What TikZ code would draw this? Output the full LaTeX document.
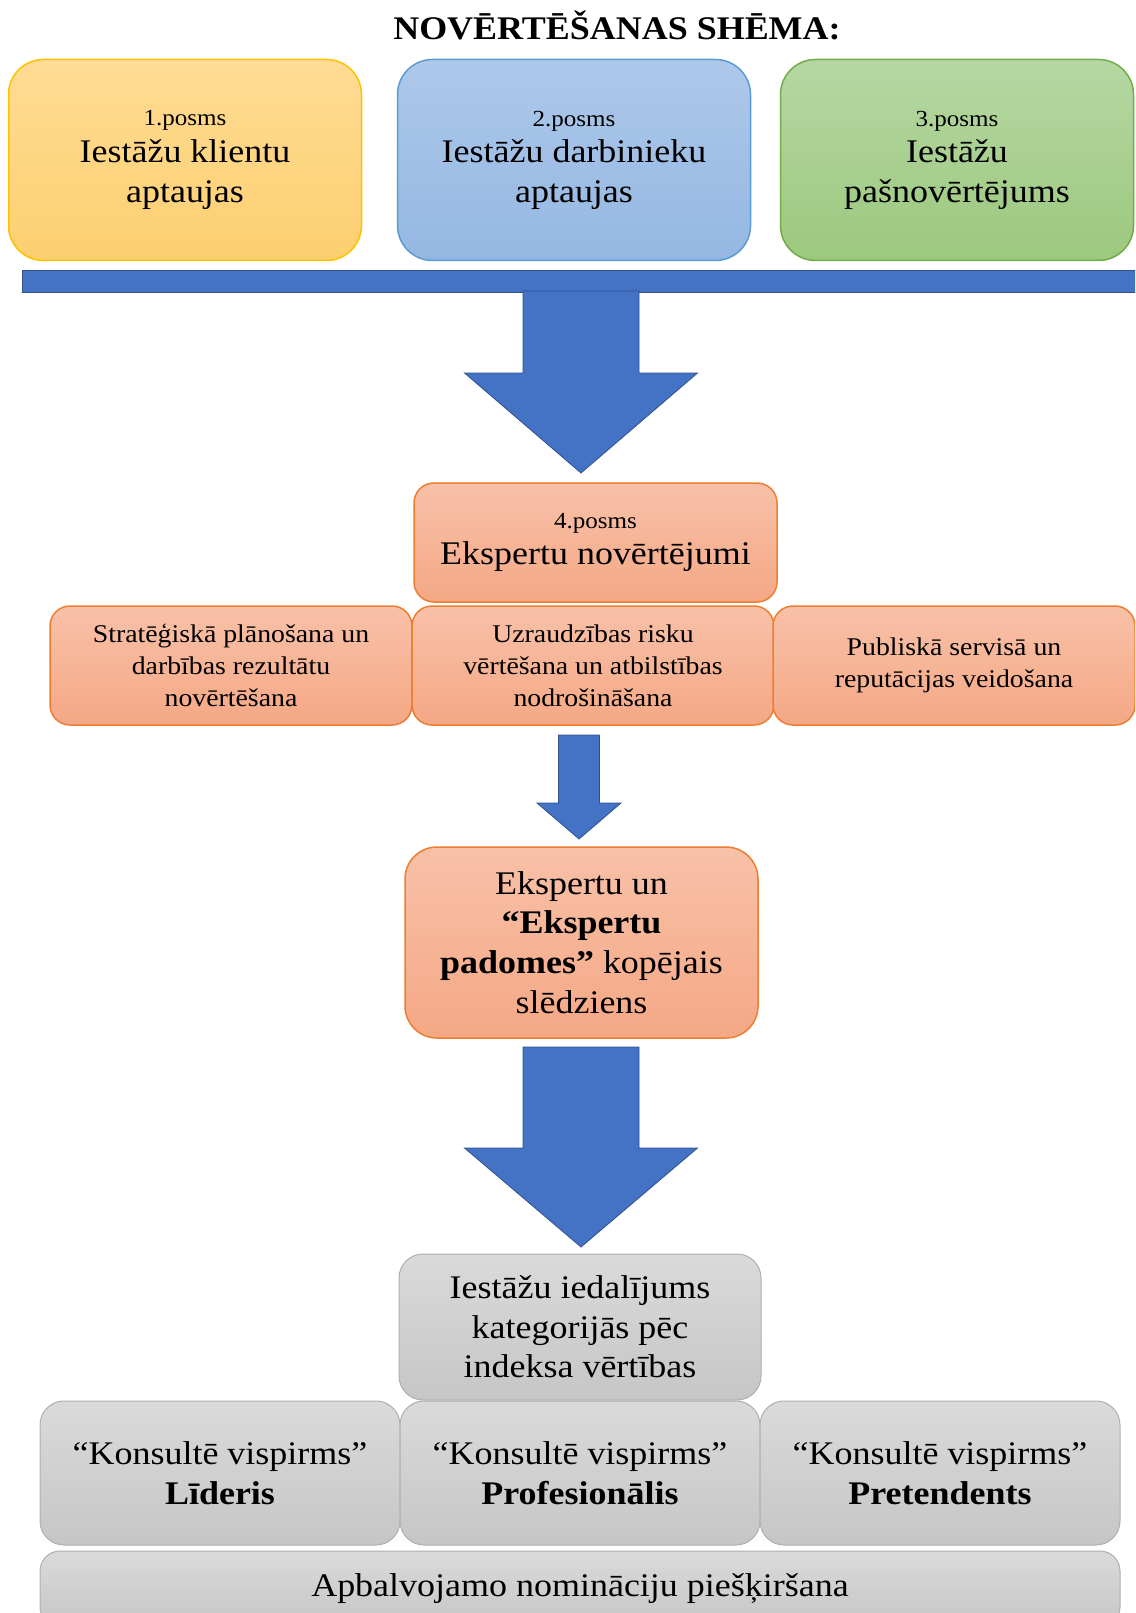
\documentclass[tikz,border=0pt]{standalone}
\usepackage{fontspec}
\setmainfont{Liberation Serif}[FakeStretch=1.09]
\usepackage{tikz}
\definecolor{goldtop}{RGB}{255,219,148}
\definecolor{goldbot}{RGB}{253,207,112}
\definecolor{goldline}{RGB}{255,192,0}
\definecolor{bluetop}{RGB}{174,200,234}
\definecolor{bluebot}{RGB}{148,183,226}
\definecolor{blueline}{RGB}{91,155,213}
\definecolor{greentop}{RGB}{182,215,163}
\definecolor{greenbot}{RGB}{156,200,126}
\definecolor{greenline}{RGB}{112,173,71}
\definecolor{orangetop}{RGB}{248,193,168}
\definecolor{orangebot}{RGB}{244,168,133}
\definecolor{orangeline}{RGB}{237,125,49}
\definecolor{graytop}{RGB}{218,218,218}
\definecolor{graybot}{RGB}{198,198,198}
\definecolor{grayline}{RGB}{175,175,175}
\definecolor{barblue}{RGB}{68,114,196}
\definecolor{barline}{RGB}{47,82,143}
\newcommand{\bigtxt}{\fontsize{33}{39.6}\selectfont}
\newcommand{\smalltxt}{\fontsize{23}{27}\selectfont}
\newcommand{\midtxt}{\fontsize{25.5}{32}\selectfont}

\begin{document}
\begin{tikzpicture}[x=1pt, y=-1pt,
  box/.style={draw, line width=1.5pt, align=center, inner sep=0pt, font=\bigtxt},
  goldbox/.style={box, rounded corners=35pt, draw=goldline, top color=goldtop, bottom color=goldbot},
  bluebox/.style={box, rounded corners=35pt, draw=blueline, top color=bluetop, bottom color=bluebot},
  greenbox/.style={box, rounded corners=35pt, draw=greenline, top color=greentop, bottom color=greenbot},
  orangebox/.style={box, draw=orangeline, top color=orangetop, bottom color=orangebot},
  graybox/.style={box, line width=1pt, draw=grayline, top color=graytop, bottom color=graybot}]
  \useasboundingbox (0,0) rectangle (1135,1613);
  \clip (0,0) rectangle (1135,1613);

  \node[font=\bigtxt\bfseries] (title) at (617,25) {NOVĒRTĒŠANAS SHĒMA:};

  % survey stages
  \foreach \x/\sty/\n/\t in {185/goldbox/1/{Iestāžu klientu\\aptaujas},
                             574/bluebox/2/{Iestāžu darbinieku\\aptaujas},
                             957/greenbox/3/{Iestāžu\\pašnovērtējums}}{
    \node[\sty, minimum width=353pt, minimum height=201pt] (stage\n) at (\x,160)
      {{\smalltxt \n.posms}\\[-3pt]\t};
  }
  \node[fill=barblue, draw=barline, line width=1pt, minimum width=1120pt,
        minimum height=22pt, inner sep=0pt] (bar) at (582,281) {};

  % block arrows
  \foreach \xc/\ys/\hb/\yt/\sw/\hw in {581/291/373/473/58/116.5,
                                       579/735/803/839/20.5/42,
                                       581/1047/1148/1247/58/116.5}{
    \filldraw[fill=barblue, draw=barline, line width=0.8pt]
      (\xc-\sw,\ys) -- (\xc-\sw,\hb) -- (\xc-\hw,\hb) -- (\xc,\yt)
      -- (\xc+\hw,\hb) -- (\xc+\sw,\hb) -- (\xc+\sw,\ys) -- cycle;
  }

  % expert stage
  \node[orangebox, rounded corners=20pt, minimum width=363pt, minimum height=119pt]
    (expert) at (595.5,542.5) {{\smalltxt 4.posms}\\[-3pt]Ekspertu novērtējumi};
  \foreach \x/\n/\t in {231/strat/{Stratēģiskā plānošana un\\darbības rezultātu\\novērtēšana},
                        593/risk/{Uzraudzības risku\\vērtēšana un atbilstības\\nodrošināšana},
                        954/publ/{Publiskā servisā un\\reputācijas veidošana}}{
    \node[orangebox, rounded corners=20pt, font=\midtxt, minimum width=362pt,
          minimum height=119pt] (\n) at (\x,665.5) {\t};
  }
  \node[orangebox, rounded corners=32pt, minimum width=353pt, minimum height=191pt]
    (joint) at (581.5,942.5)
    {Ekspertu un\\\textbf{“Ekspertu}\\\textbf{padomes”} kopējais\\slēdziens};

  % categories
  \node[graybox, rounded corners=24pt, minimum width=362pt, minimum height=146pt]
    (split) at (580,1327) {Iestāžu iedalījums\\kategorijās pēc\\indeksa vērtības};
  \foreach \x/\n/\t in {220/lider/Līderis, 580/prof/Profesionālis, 940/pret/Pretendents}{
    \node[graybox, rounded corners=24pt, minimum width=360pt, minimum height=144pt]
      (\n) at (\x,1473) {“Konsultē vispirms”\\\textbf{\t}};
  }
  \node[graybox, rounded corners=20pt, minimum width=1080pt, minimum height=76pt]
    (award) at (580,1589) {Apbalvojamo nomināciju piešķiršana};
\end{tikzpicture}
\end{document}
